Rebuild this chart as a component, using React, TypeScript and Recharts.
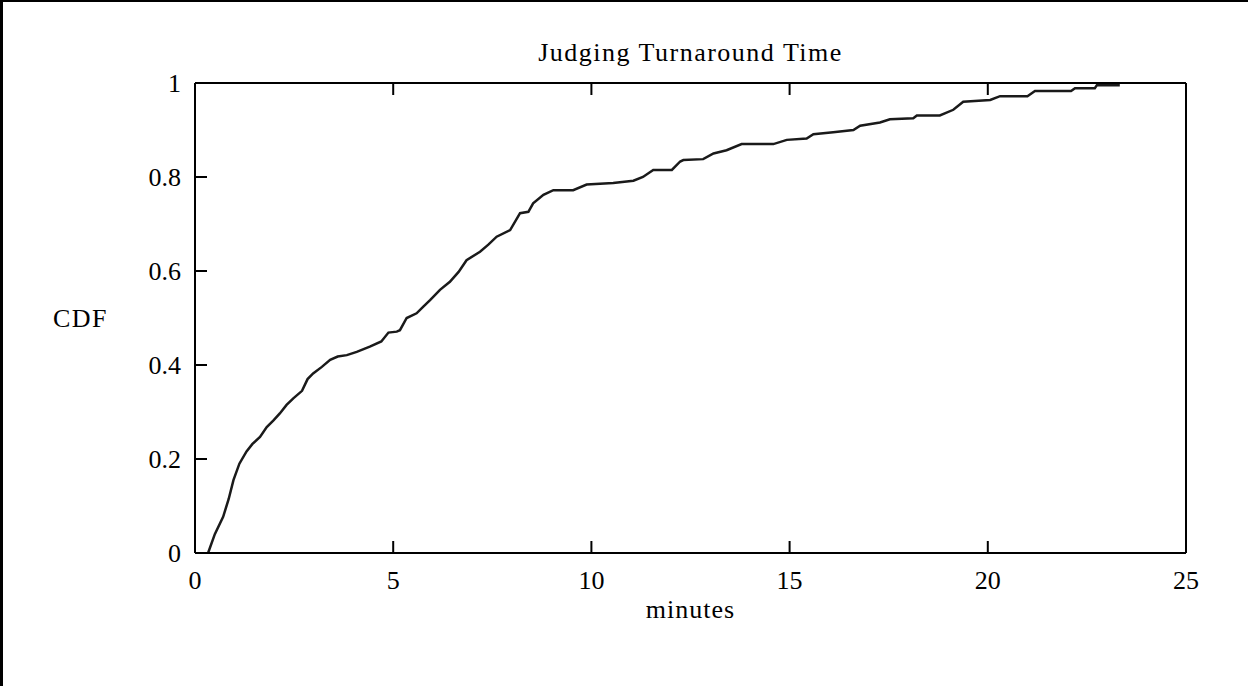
import React from "react";
import { LineChart, Line, XAxis, YAxis, Label } from "recharts";

// turnaround time (minutes) and cumulative fraction
const minutes = [
  0.33, 0.5, 0.71, 0.85, 0.97, 1.12, 1.3, 1.45, 1.64, 1.81, 1.98, 2.14, 2.31, 2.48, 2.7, 2.84,
  2.98, 3.2, 3.41, 3.6, 3.83, 4.08, 4.41, 4.7, 4.88, 5.09, 5.17, 5.34, 5.59, 5.76, 5.93, 6.18,
  6.43, 6.65, 6.85, 7.19, 7.4, 7.61, 7.95, 8.2, 8.41, 8.53, 8.79, 9.04, 9.54, 9.88, 10.55, 11.06,
  11.3, 11.56, 12.03, 12.24, 12.32, 12.82, 13.08, 13.41, 13.79, 14.59, 14.93, 15.43, 15.6, 16.1,
  16.61, 16.78, 17.28, 17.53, 18.12, 18.21, 18.79, 19.13, 19.38, 20.06, 20.31, 21.0, 21.19,
  22.1, 22.2, 22.7, 22.75, 23.33,
];
const cdf = [
  0.0, 0.04, 0.077, 0.115, 0.155, 0.19, 0.216, 0.232, 0.247, 0.268, 0.282, 0.297, 0.315, 0.329,
  0.345, 0.37, 0.382, 0.396, 0.411, 0.418, 0.421, 0.428, 0.439, 0.45, 0.469, 0.471, 0.474, 0.5,
  0.51, 0.524, 0.538, 0.56, 0.577, 0.598, 0.623, 0.641, 0.656, 0.673, 0.687, 0.723, 0.726, 0.744,
  0.762, 0.772, 0.772, 0.784, 0.787, 0.792, 0.8, 0.815, 0.815, 0.833, 0.836, 0.838, 0.85, 0.857,
  0.87, 0.87, 0.879, 0.882, 0.891, 0.895, 0.9, 0.909, 0.916, 0.923, 0.925, 0.931, 0.931, 0.943,
  0.96, 0.964, 0.972, 0.972, 0.983, 0.983, 0.989, 0.989, 0.995, 0.995,
];
const xTicks = [0, 5, 10, 15, 20, 25];
const yTicks = [0, 0.2, 0.4, 0.6, 0.8, 1];

const data = minutes.map((t, i) => ({ t, cdf: cdf[i] }));

const FONT = "'Liberation Serif', serif";
const tickStyle = { fill: "#000", fontSize: 26, fontFamily: FONT };
const axisLine = { stroke: "#000", strokeWidth: 2 };
const tickLine = { stroke: "#000", strokeWidth: 2 };
const blank = () => "";

export default function App() {
  return (
    <div style={{ position: "fixed", left: 0, top: 0, width: 1248, height: 686, background: "#fff" }}>
      <LineChart
        width={1248}
        height={686}
        data={data}
        margin={{ top: 82, right: 61, bottom: 132, left: 194 }}
      >
        <XAxis
          dataKey="t"
          type="number"
          domain={[0, 25]}
          ticks={xTicks}
          height={1}
          tickSize={-12}
          tickMargin={30}
          axisLine={axisLine}
          tickLine={tickLine}
          tick={tickStyle}
        >
          <Label
            value="minutes"
            position="bottom"
            offset={46}
            style={{ fill: "#000", fontSize: 26, fontFamily: FONT, letterSpacing: 1 }}
          />
        </XAxis>
        <XAxis
          xAxisId="top"
          orientation="top"
          dataKey="t"
          type="number"
          domain={[0, 25]}
          ticks={xTicks}
          height={1}
          tickSize={-12}
          axisLine={axisLine}
          tickLine={tickLine}
          tickFormatter={blank}
        />
        <YAxis
          type="number"
          domain={[0, 1]}
          ticks={yTicks}
          width={1}
          tickSize={-12}
          tickMargin={26}
          axisLine={axisLine}
          tickLine={tickLine}
          tick={tickStyle}
        >
          <Label
            value="CDF"
            position="left"
            offset={86}
            style={{ fill: "#000", fontSize: 26, fontFamily: FONT, letterSpacing: 1.5, textAnchor: "end" }}
          />
        </YAxis>
        <YAxis
          yAxisId="right"
          orientation="right"
          type="number"
          domain={[0, 1]}
          ticks={yTicks}
          width={1}
          tickSize={-12}
          axisLine={axisLine}
          tickLine={tickLine}
          tickFormatter={blank}
        />
        <Line
          dataKey="cdf"
          type="linear"
          stroke="#1a1a1a"
          strokeWidth={2.5}
          dot={false}
          isAnimationActive={false}
        />
      </LineChart>
      <div
        style={{
          position: "absolute",
          left: 195,
          width: 991,
          top: 36,
          textAlign: "center",
          fontFamily: FONT,
          fontSize: 26,
          letterSpacing: 1.5,
          lineHeight: "34px",
          color: "#000",
        }}
      >
        Judging Turnaround Time
      </div>
      <div
        style={{
          position: "absolute",
          left: 0,
          top: 0,
          width: 1248,
          height: 686,
          borderLeft: "3px solid #000",
          borderTop: "2px solid #000",
          boxSizing: "border-box",
          pointerEvents: "none",
        }}
      />
    </div>
  );
}
